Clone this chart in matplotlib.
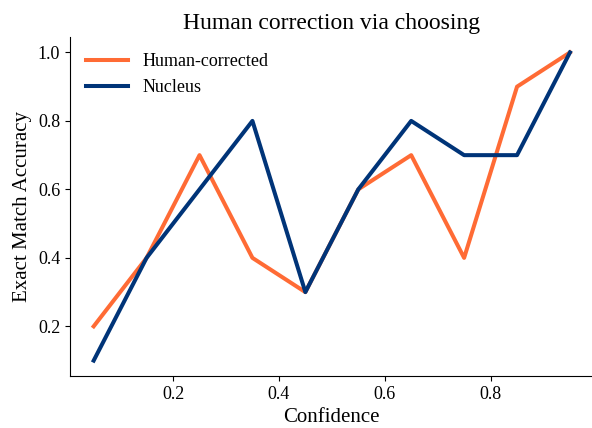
import matplotlib
matplotlib.use("Agg")
import matplotlib.pyplot as plt

# confidence bins and accuracy per bin
confidence = [0.05, 0.15, 0.25, 0.35, 0.45, 0.55, 0.65, 0.75, 0.85, 0.95]
human_corrected = [0.2, 0.4, 0.7, 0.4, 0.3, 0.6, 0.7, 0.4, 0.9, 1.0]
nucleus = [0.1, 0.4, 0.6, 0.8, 0.3, 0.6, 0.8, 0.7, 0.7, 1.0]

plt.rcParams['font.family'] = ['Liberation Serif', 'DejaVu Serif']

fig = plt.figure(figsize=(5.92, 4.28), dpi=100)
ax = fig.add_axes([0.118, 0.1215, 0.885, 0.792])

ax.plot(confidence, human_corrected, color='#FF6B35', linewidth=2.9, label='Human-corrected')
ax.plot(confidence, nucleus, color='#003478', linewidth=2.9, label='Nucleus')

ax.set_title('Human correction via choosing', fontsize=17)
ax.set_xlabel('Confidence', fontsize=15)
ax.set_ylabel('Exact Match Accuracy', fontsize=15)
ax.set_xticks([0.2, 0.4, 0.6, 0.8])
ax.set_yticks([0.2, 0.4, 0.6, 0.8, 1.0])
ax.tick_params(labelsize=13)
ax.spines['top'].set_visible(False)
ax.spines['right'].set_visible(False)
ax.legend(frameon=False, fontsize=13, loc='upper left', handlelength=2.3)

fig.savefig('out.png', dpi=100)
